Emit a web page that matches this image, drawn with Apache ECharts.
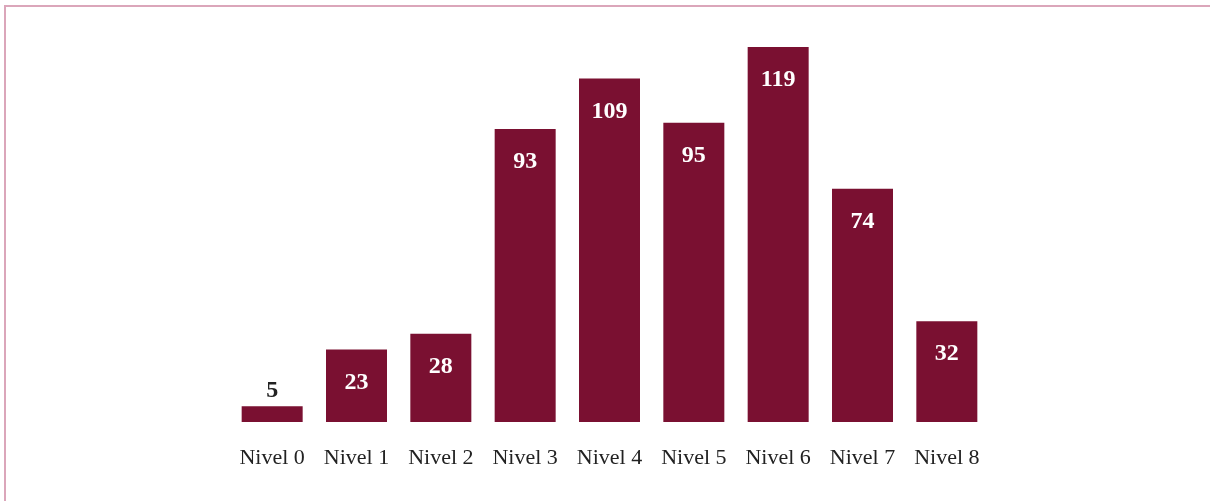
<!DOCTYPE html>
<html>
<head>
<meta charset="utf-8">
<script src="https://cdn.jsdelivr.net/npm/echarts@6/dist/echarts.min.js"></script>
<style>
html,body{margin:0;padding:0;background:#fff;overflow:hidden;}
#frame{position:absolute;left:4px;top:5px;width:1300px;height:600px;border-left:2px solid #dba6ba;border-top:2px solid #dba6ba;}
#chart{position:absolute;left:0;top:0;width:1210px;height:501px;}
</style>
</head>
<body>
<div id="frame"></div>
<div id="chart"></div>
<script>
const categories = ['Nivel 0','Nivel 1','Nivel 2','Nivel 3','Nivel 4','Nivel 5','Nivel 6','Nivel 7','Nivel 8'];
const values = [5, 23, 28, 93, 109, 95, 119, 74, 32];

const chart = echarts.init(document.getElementById('chart'));
const serif = '"Liberation Serif", "DejaVu Serif", serif';
chart.setOption({
  animation: false,
  grid: {left: 230, width: 759, top: 47, bottom: 79},
  xAxis: {
    type: 'category', data: categories,
    axisLine: {show: false}, axisTick: {show: false},
    axisLabel: {interval: 0, fontFamily: serif, fontSize: 22, color: '#222', margin: 25}
  },
  yAxis: {type: 'value', min: 0, max: 'dataMax', show: false, splitLine: {show: false}},
  series: [{
    type: 'bar', barWidth: 61,
    data: values.map(v => ({
      value: v,
      label: v < 10 ? {position: 'top', distance: 3, color: '#222'} : {}
    })),
    itemStyle: {color: '#7a1031'},
    label: {show: true, position: 'insideTop', distance: 21, color: '#fff',
      fontFamily: serif, fontWeight: 'bold', fontSize: 24}
  }]
});
</script>
</body>
</html>
